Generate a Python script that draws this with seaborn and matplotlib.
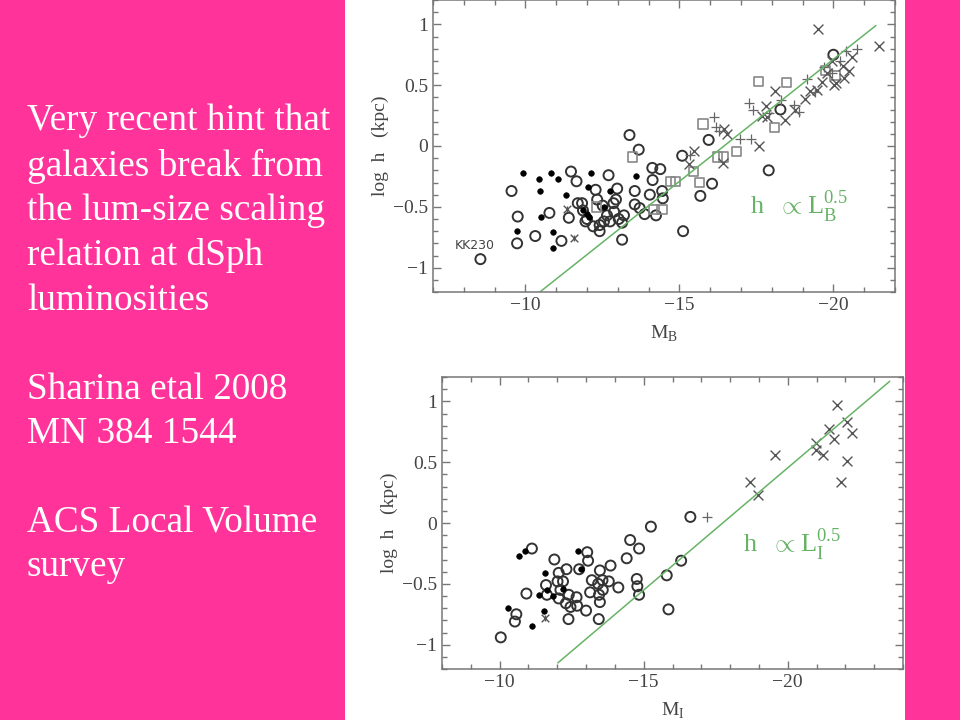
import numpy as np
import pandas as pd
import seaborn as sns
import matplotlib.pyplot as plt
from matplotlib.patches import Rectangle
from matplotlib.ticker import MultipleLocator

# ---- top panel (M_B) ----
b_open_m = [-8.54, -9.55, -9.75, -9.73, -10.32, -10.78, -11.17, -11.41, -11.48, -11.66,
            -11.84, -11.87, -12.0, -12.28, -12.33, -12.41, -12.41, -12.51, -12.65, -12.7,
            -12.86, -12.94, -12.98, -12.88, -13.03, -13.14, -13.2, -13.14, -13.38, -13.68,
            -13.55, -13.55, -13.71, -13.87, -14.04, -14.12, -14.13, -14.24, -14.38, -14.44,
            -14.46, -15.12, -15.09, -15.95, -16.06, -15.68, -17.9, -18.28, -20.0, -11.95,
            -12.2, -12.55, -12.75, -11.7]
b_open_h = [-0.93, -0.37, -0.58, -0.80, -0.74, -0.55, -0.78, -0.59, -0.21, -0.29,
            -0.47, -0.53, -0.60, -0.36, -0.44, -0.65, -0.70, -0.49, -0.57, -0.24,
            -0.47, -0.44, -0.35, -0.54, -0.60, -0.63, -0.57, -0.77, 0.09, -0.03,
            -0.37, -0.48, -0.51, -0.56, -0.40, -0.18, -0.28, -0.57, -0.19, -0.37,
            -0.43, -0.70, -0.08, 0.05, -0.31, -0.41, -0.20, 0.30, 0.75, -0.62,
            -0.66, -0.62, -0.62, -0.47]
b_fill_m = [-9.91, -10.45, -10.47, -10.82, -11.07, -11.31, -10.52, -9.73, -10.88, -10.91,
            -12.12, -12.04, -11.87, -12.06, -12.54, -12.76, -13.6, -12.0]
b_fill_h = [-0.22, -0.27, -0.37, -0.22, -0.27, -0.40, -0.58, -0.70, -0.71, -0.84,
            -0.22, -0.34, -0.53, -0.58, -0.50, -0.37, -0.25, -0.56]
b_sq_m = [-13.48, -14.71, -14.87, -14.17, -14.44, -17.57, -18.47, -15.77, -18.08, -16.85,
          -16.44, -16.24, -15.46, -15.65, -19.75, -20.05, -12.3]
b_sq_h = [-0.09, -0.29, -0.29, -0.52, -0.52, 0.53, 0.52, 0.18, 0.15, -0.045,
          -0.09, -0.09, -0.21, -0.30, 0.62, 0.58, -0.50]
b_x_m = [-19.49, -21.49, -20.61, -20.52, -20.08, -19.8, -19.63, -19.47, -19.23, -19.09,
         -18.09, -17.82, -17.68, -17.86, -18.44, -17.6, -16.53, -15.46, -16.41, -15.3,
         -20.01, -19.95, -20.3, -16.45, -18.75, -20.35]
b_x_h = [0.96, 0.82, 0.73, 0.62, 0.52, 0.60, 0.53, 0.46, 0.45, 0.39,
         0.45, 0.33, 0.25, 0.24, 0.21, 0.0, 0.10, -0.04, -0.14, -0.15,
         0.50, 0.70, 0.66, 0.14, 0.30, 0.56]
b_plus_m = [-16.11, -16.96, -17.31, -17.25, -17.39, -18.71, -18.87, -19.15, -19.7, -19.95,
            -20.2, -20.4, -20.75, -16.2, -16.3, -18.3, -19.4, -17.9, -15.35]
b_plus_h = [0.24, 0.055, 0.055, 0.35, 0.30, 0.34, 0.28, 0.55, 0.65, 0.60,
            0.70, 0.78, 0.80, 0.16, 0.12, 0.38, 0.44, 0.27, -0.07]
b_ast_m = [-11.35, -11.57]
b_ast_h = [-0.52, -0.76]
b_fit_m = [-10.47, -21.38]
b_fit_h = [-1.20, 0.99]

# ---- bottom panel (M_I) ----
i_open_m = [-10.04, -10.53, -10.58, -10.93, -11.12, -11.90, -11.61, -11.64, -12.01, -12.05,
            -12.2, -12.11, -12.05, -12.32, -12.40, -12.30, -12.46, -12.67, -12.69, -12.39,
            -12.76, -13.04, -13.07, -13.0, -13.14, -13.2, -13.42, -13.48, -13.45, -13.48,
            -13.44, -13.58, -13.57, -13.85, -13.79, -14.12, -14.41, -14.53, -14.84, -14.76,
            -14.78, -14.84, -15.25, -15.80, -15.86, -16.30, -16.62]
i_open_h = [-0.94, -0.81, -0.75, -0.58, -0.21, -0.30, -0.51, -0.59, -0.48, -0.41,
            -0.48, -0.55, -0.62, -0.38, -0.59, -0.66, -0.69, -0.61, -0.68, -0.79,
            -0.38, -0.24, -0.31, -0.72, -0.57, -0.47, -0.50, -0.39, -0.59, -0.65,
            -0.79, -0.55, -0.47, -0.35, -0.48, -0.53, -0.29, -0.14, -0.21, -0.46,
            -0.52, -0.59, -0.03, -0.43, -0.71, -0.31, 0.05]
i_fill_m = [-10.66, -10.89, -10.29, -11.12, -11.37, -11.59, -11.65, -11.55, -11.84, -12.21,
            -12.73, -12.83]
i_fill_h = [-0.27, -0.23, -0.70, -0.85, -0.59, -0.41, -0.55, -0.72, -0.60, -0.54,
            -0.23, -0.38]
i_x_m = [-21.71, -19.57, -18.70, -18.97, -20.97, -20.97, -21.24, -21.43, -21.61, -22.05,
         -22.24, -22.05, -21.84]
i_x_h = [0.97, 0.56, 0.34, 0.23, 0.66, 0.60, 0.56, 0.77, 0.69, 0.83,
         0.74, 0.51, 0.34]
i_plus_m = [-17.2]
i_plus_h = [0.05]
i_ast_m = [-11.58]
i_ast_h = [-0.78]
i_fit_m = [-12.02, -23.54]
i_fit_h = [-1.15, 1.165]

pink = "#FF3399"
green = "#66b366"
ink = "#333333"

sns.set_style("ticks")
plt.rcParams["font.family"] = ["Liberation Serif", "DejaVu Serif"]
plt.rcParams["mathtext.fontset"] = "custom"
plt.rcParams["mathtext.rm"] = "Liberation Serif"

fig = plt.figure(figsize=(9.6, 7.2), dpi=100, facecolor=pink)
fig.patches.append(Rectangle((345 / 960, 0), (905 - 345) / 960, 1,
                             transform=fig.transFigure, facecolor="white",
                             edgecolor="none", zorder=-5))

text_lines = ["Very recent hint that", "galaxies break from", "the lum-size scaling",
              "relation at dSph", "luminosities", "", "Sharina etal 2008",
              "MN 384 1544", "", "ACS Local Volume", "survey"]
fig.text(27 / 960, 1 - 104 / 720, "\n".join(text_lines), color="white",
         fontsize=26.8, va="top", ha="left", linespacing=1.375)


def panel(ax, xlim, sets, fit, xlabel, fit_label, label_pos):
    om, oh, fm, fh, sm, sh, xm, xh, pm, ph, am, ah = sets
    sns.scatterplot(x=om, y=oh, marker="o", s=52, facecolor="none", edgecolor=ink,
                    linewidth=1.4, ax=ax)
    sns.scatterplot(x=fm, y=fh, marker="o", s=16, color="black", edgecolor="black",
                    linewidth=0.5, ax=ax)
    if sm:
        sns.scatterplot(x=sm, y=sh, marker="s", s=46, facecolor="none", edgecolor="#888888",
                        linewidth=1.2, ax=ax)
    sns.scatterplot(x=xm, y=xh, marker="x", s=50, color="#555555", linewidth=1.0, ax=ax)
    sns.scatterplot(x=pm, y=ph, marker="+", s=42, color="#666666", linewidth=0.9, ax=ax)
    sns.scatterplot(x=am, y=ah, marker="x", s=30, color="#555555", linewidth=1.0, ax=ax)
    sns.scatterplot(x=am, y=ah, marker="|", s=20, color="#555555", linewidth=1.0, ax=ax)
    sns.lineplot(x=fit[0], y=fit[1], color=green, linewidth=1.1, estimator=None,
                 sort=False, ax=ax)
    ax.set_xlim(*xlim)
    ax.set_ylim(-1.2, 1.2)
    ax.set_xticks([-10, -15, -20])
    ax.set_xticklabels(["\u221210", "\u221215", "\u221220"])
    ax.set_yticks([-1, -0.5, 0, 0.5, 1])
    ax.set_yticklabels(["\u22121", "\u22120.5", "0", "0.5", "1"])
    ax.xaxis.set_minor_locator(MultipleLocator(1))
    ax.yaxis.set_minor_locator(MultipleLocator(0.1))
    ax.tick_params(which="both", direction="in", top=True, right=True, color="#777777",
                   labelcolor="#444444", labelsize=14, width=1)
    ax.tick_params(which="major", length=6)
    ax.tick_params(which="minor", length=3.5)
    for s in ax.spines.values():
        s.set_color("#777777")
        s.set_linewidth(1.1)
    ax.set_facecolor("white")
    ax.set_xlabel(xlabel, fontsize=14, color="#444444", labelpad=7)
    ax.set_ylabel("log  h   (kpc)", fontsize=14, color="#444444", labelpad=3)
    ax.text(label_pos[0], label_pos[1], fit_label, color=green, fontsize=19,
            ha="left", va="center")


ax1 = fig.add_axes([433 / 960, 1 - 292 / 720, (895 - 433) / 960, 292 / 720])
panel(ax1, (-7, -22),
      (b_open_m, b_open_h, b_fill_m, b_fill_h, b_sq_m, b_sq_h, b_x_m, b_x_h,
       b_plus_m, b_plus_h, b_ast_m, b_ast_h),
      (b_fit_m, b_fit_h), r"M$_\mathrm{B}$", r"h  $\propto$L$_\mathrm{B}^{0.5}$",
      (-17.3, -0.5))
ax1.text(-7.7, -0.82, "KK230", fontsize=9, color="#444444", family="DejaVu Sans",
         ha="left", va="center")

ax2 = fig.add_axes([442 / 960, 1 - 669 / 720, (903 - 442) / 960, (669 - 377) / 720])
panel(ax2, (-8, -24),
      (i_open_m, i_open_h, i_fill_m, i_fill_h, [], [], i_x_m, i_x_h,
       i_plus_m, i_plus_h, i_ast_m, i_ast_h),
      (i_fit_m, i_fit_h), r"M$_\mathrm{I}$", r"h  $\propto$L$_\mathrm{I}^{0.5}$",
      (-18.45, -0.18))

fig.savefig("out.png", dpi=100, facecolor=pink)
